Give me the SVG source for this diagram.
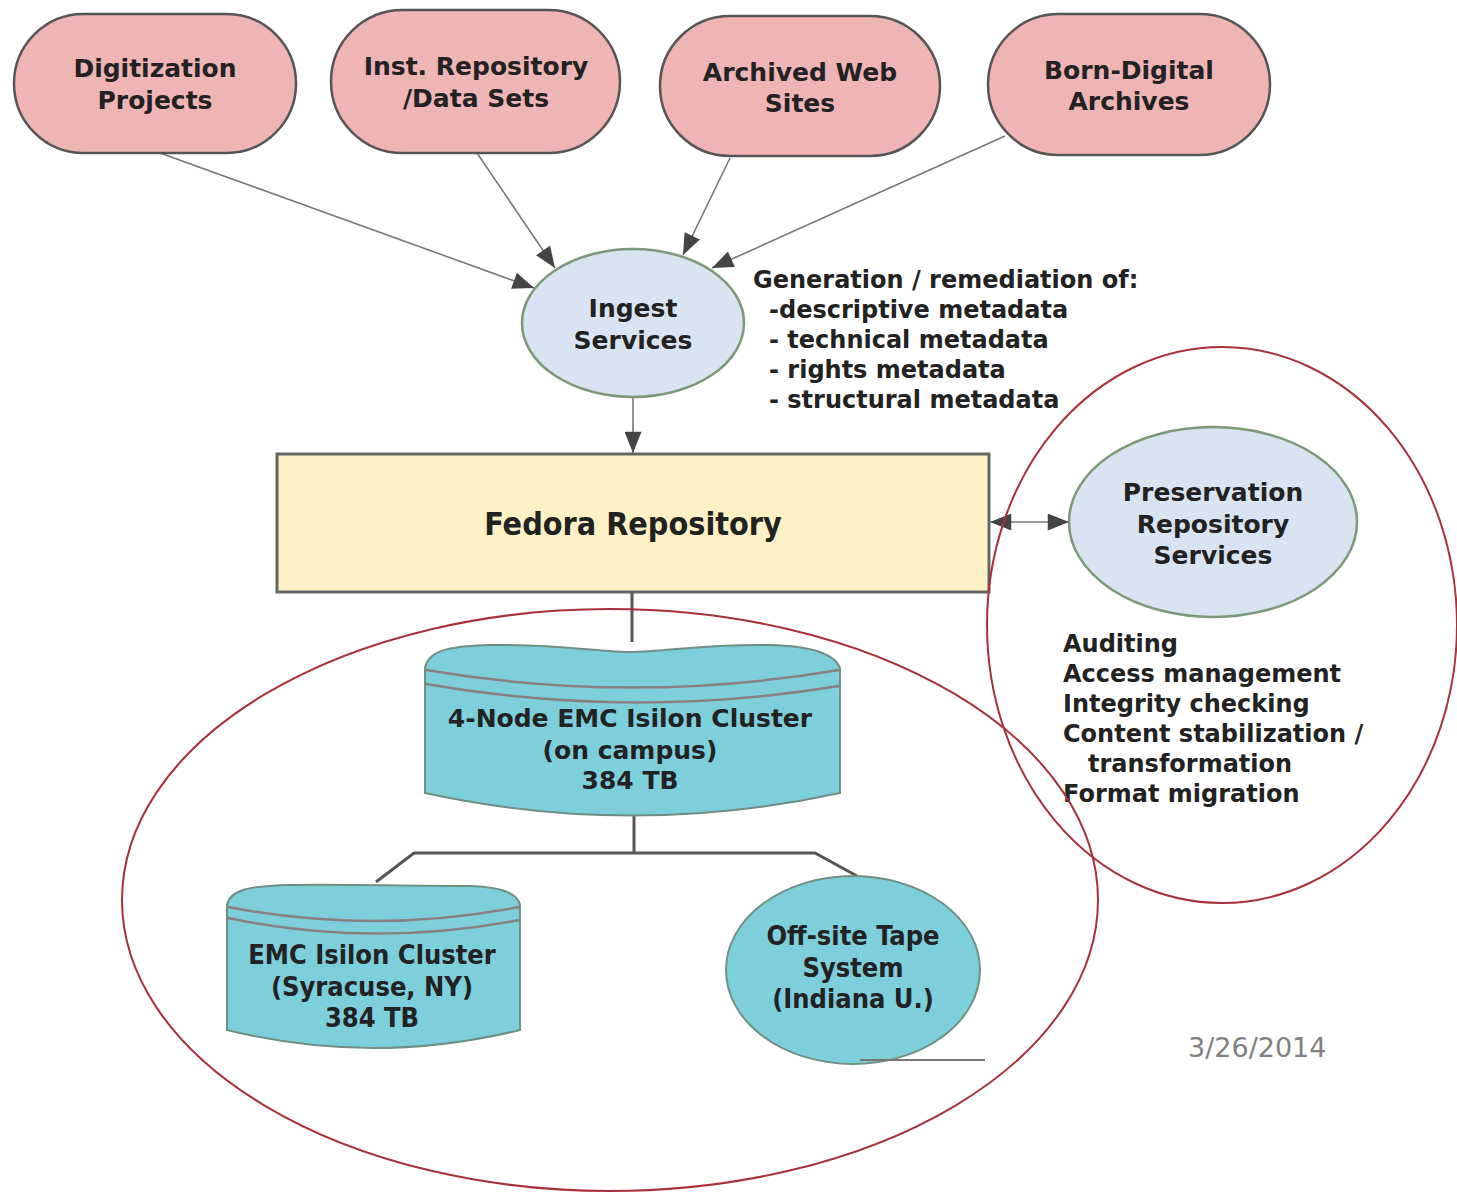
<svg xmlns="http://www.w3.org/2000/svg" width="1457" height="1193" viewBox="0 0 1457 1193">
<defs>
<style>
.src{fill:#efb4b4;stroke:#555;stroke-width:2.5}
.svc{fill:#d9e4f2;stroke:#7b9978;stroke-width:2.5}
.store{fill:#7ecfdc;stroke:#6f8f83;stroke-width:2}
.band{fill:none;stroke:#8a7f7f;stroke-width:2.5}
.t{font-family:"DejaVu Sans",Verdana,sans-serif;font-weight:bold;fill:#222}
.tc{font-family:"DejaVu Sans Condensed","DejaVu Sans",sans-serif;font-weight:bold;fill:#222}
.conn{stroke:#777;stroke-width:1.6;fill:none}
.tree{stroke:#555;stroke-width:3;fill:none}
.ring{fill:none;stroke:#a8313a;stroke-width:2}
</style>
<marker id="ah" viewBox="0 0 20 16" refX="20" refY="8" markerWidth="22" markerHeight="17" markerUnits="userSpaceOnUse" orient="auto">
<path d="M0,0 L20,8 L0,16 Z" fill="#444"/>
</marker>
</defs>
<rect width="1457" height="1193" fill="#fff"/>

<g id="connectors">
<line class="conn" x1="160" y1="153" x2="534" y2="288" marker-end="url(#ah)"/>
<line class="conn" x1="477" y1="153" x2="555" y2="268" marker-end="url(#ah)"/>
<line class="conn" x1="730" y1="158" x2="683" y2="255" marker-end="url(#ah)"/>
<line class="conn" x1="1005" y1="136" x2="712" y2="268" marker-end="url(#ah)"/>
<line class="conn" x1="633" y1="397" x2="633" y2="453" stroke-width="2.5" marker-end="url(#ah)"/>
<line class="conn" x1="1030" y1="522" x2="990" y2="522" stroke-width="2" marker-end="url(#ah)"/>
<line class="conn" x1="1030" y1="522" x2="1069" y2="522" stroke-width="2" marker-end="url(#ah)"/>
<line class="tree" x1="632" y1="592" x2="632" y2="642" stroke-width="2.5"/>
<line class="tree" x1="634" y1="812" x2="634" y2="853"/>
<polyline class="tree" points="376,882 414,853 815,853 857,876"/>
</g>

<g id="n-digitization">
<rect class="src" x="14" y="14" width="282" height="139" rx="69.5"/>
<text class="t" font-size="25" text-anchor="middle"><tspan x="155" y="77">Digitization</tspan><tspan x="155" y="109">Projects</tspan></text>
</g>
<g id="n-inst">
<rect class="src" x="331" y="10" width="289" height="143" rx="71.5"/>
<text class="t" font-size="25" text-anchor="middle"><tspan x="476" y="75">Inst. Repository</tspan><tspan x="476" y="107">/Data Sets</tspan></text>
</g>
<g id="n-web">
<rect class="src" x="660" y="16" width="280" height="140" rx="70"/>
<text class="t" font-size="25" text-anchor="middle"><tspan x="800" y="81">Archived Web</tspan><tspan x="800" y="112">Sites</tspan></text>
</g>
<g id="n-born">
<rect class="src" x="988" y="14" width="282" height="141" rx="70.5"/>
<text class="t" font-size="25" text-anchor="middle"><tspan x="1129" y="79">Born-Digital</tspan><tspan x="1129" y="110">Archives</tspan></text>
</g>

<g id="n-ingest">
<ellipse class="svc" cx="633" cy="323" rx="111" ry="74"/>
<text class="t" font-size="25" text-anchor="middle"><tspan x="633" y="317">Ingest</tspan><tspan x="633" y="349">Services</tspan></text>
</g>
<g id="ingest-notes">
<text class="t" font-size="24" fill="#333"><tspan x="753" y="288">Generation / remediation of:</tspan><tspan x="769" y="318">-descriptive metadata</tspan><tspan x="769" y="348">- technical metadata</tspan><tspan x="769" y="378">- rights metadata</tspan><tspan x="769" y="408">- structural metadata</tspan></text>
</g>

<g id="n-fedora">
<rect x="277" y="454" width="712" height="138" fill="#fdf1c5" stroke="#666" stroke-width="3"/>
<text class="tc" font-size="32" text-anchor="middle" x="633" y="535">Fedora Repository</text>
</g>

<g id="n-preservation">
<ellipse class="svc" cx="1213" cy="522" rx="144" ry="95"/>
<text class="t" font-size="25" text-anchor="middle"><tspan x="1213" y="501">Preservation</tspan><tspan x="1213" y="533">Repository</tspan><tspan x="1213" y="564">Services</tspan></text>
</g>
<g id="preservation-notes">
<text class="t" font-size="24" fill="#333"><tspan x="1063" y="652">Auditing</tspan><tspan x="1063" y="682">Access management</tspan><tspan x="1063" y="712">Integrity checking</tspan><tspan x="1063" y="742">Content stabilization /</tspan><tspan x="1088" y="772">transformation</tspan><tspan x="1063" y="802">Format migration</tspan></text>
</g>

<g id="n-isilon-campus">
<path class="store" d="M425,668 C428,652 445,646 490,645 C560,644 600,652 632,652 C665,652 700,644 770,645 C815,646 835,655 840,668 L840,793 Q632,838 425,793 Z"/>
<path class="band" d="M426,670 Q632,705 839,670"/>
<path class="band" d="M426,684 Q632,720 839,686"/>
<text class="t" font-size="25" text-anchor="middle"><tspan x="630" y="727">4-Node EMC Isilon Cluster</tspan><tspan x="630" y="759">(on campus)</tspan><tspan x="630" y="789">384 TB</tspan></text>
</g>

<g id="n-isilon-syracuse">
<path class="store" d="M227,905 C230,890 248,886 290,885 C340,884 400,886 470,886 C505,887 518,895 520,905 L520,1030 Q372,1066 227,1030 Z"/>
<path class="band" d="M228,907 Q372,935 519,907"/>
<path class="band" d="M228,918 Q372,948 519,920"/>
<text class="tc" font-size="27" text-anchor="middle"><tspan x="372" y="964">EMC Isilon Cluster</tspan><tspan x="372" y="996">(Syracuse, NY)</tspan><tspan x="372" y="1027">384 TB</tspan></text>
</g>

<g id="n-tape">
<ellipse class="store" cx="853" cy="970" rx="127" ry="94"/>
<line x1="860" y1="1060" x2="985" y2="1060" stroke="#777" stroke-width="2"/>
<text class="tc" font-size="27" text-anchor="middle"><tspan x="853" y="945">Off-site Tape</tspan><tspan x="853" y="977">System</tspan><tspan x="853" y="1008">(Indiana U.)</tspan></text>
</g>

<g id="rings">
<ellipse class="ring" cx="610" cy="900" rx="488" ry="291"/>
<ellipse class="ring" cx="1222" cy="625" rx="235" ry="278"/>
</g>

<text font-family="'DejaVu Sans',Verdana,sans-serif" font-size="27" fill="#808080" x="1188" y="1057">3/26/2014</text>
</svg>
